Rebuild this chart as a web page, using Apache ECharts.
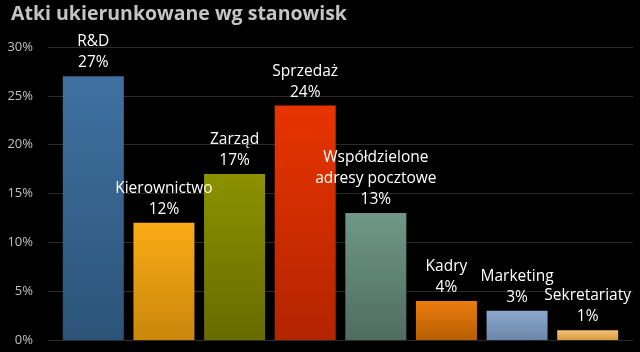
<!DOCTYPE html>
<html>
<head>
<meta charset="utf-8">
<script src="https://cdn.jsdelivr.net/npm/echarts@6/dist/echarts.min.js"></script>
<style>
html,body{margin:0;padding:0;background:#000;}
#c{width:640px;height:352px;}
</style>
</head>
<body>
<div id="c"></div>
<script>
const titleText = 'Atki ukierunkowane wg stanowisk';
const categories = ['R&D', 'Kierownictwo', 'Zarząd', 'Sprzedaż', 'Współdzielone\nadresy pocztowe', 'Kadry', 'Marketing', 'Sekretariaty'];
const values = [27, 12, 17, 24, 13, 4, 3, 1];
const topColors = ['#3f70a0', '#fbab16', '#8c9200', '#e83400', '#6f9787', '#ec7c0c', '#8ca8ce', '#f7c373'];
const bottomColors = ['#2c5479', '#c9870c', '#676b00', '#b32400', '#4e6d60', '#b75e04', '#6b86a8', '#d69a40'];

const chart = echarts.init(document.getElementById('c'));
const font = '"Open Sans", sans-serif';
chart.setOption({
  backgroundColor: '#000',
  animation: false,
  title: {
    text: titleText, left: 6, top: -1,
    textStyle: {color: '#c4c4c4', fontSize: 19.5, fontWeight: 'bold', fontFamily: font}
  },
  grid: [
    {left: 48, right: 7, top: 47, bottom: 12},
    {left: 58, right: 17, top: 47, bottom: 12}
  ],
  xAxis: [
    {gridIndex: 0, type: 'value', show: false, min: 0, max: 1},
    {gridIndex: 1, type: 'category', data: categories, show: false}
  ],
  yAxis: [
    {gridIndex: 0, type: 'value', min: 0, max: 30, interval: 5,
     axisLine: {show: false}, axisTick: {show: false},
     axisLabel: {formatter: '{value}%', color: '#c0c0c0', fontSize: 13, margin: 15, fontFamily: font},
     splitLine: {lineStyle: {color: '#2b2b2b', width: 1}}},
    {gridIndex: 1, type: 'value', min: 0, max: 30, show: false, splitLine: {show: false}}
  ],
  series: [{
    type: 'bar', xAxisIndex: 1, yAxisIndex: 1,
    barWidth: 61,
    data: values.map((v, i) => ({
      value: v,
      itemStyle: {color: new echarts.graphic.LinearGradient(0, 0, 0, 1, [
        {offset: 0, color: topColors[i]}, {offset: 1, color: bottomColors[i]}
      ])}
    })),
    label: {
      show: true, position: 'top', distance: 3,
      formatter: p => p.name + '\n' + p.value + '%',
      color: '#ffffff', fontSize: 15.5, lineHeight: 21, fontFamily: font
    }
  }]
});
</script>
</body>
</html>
